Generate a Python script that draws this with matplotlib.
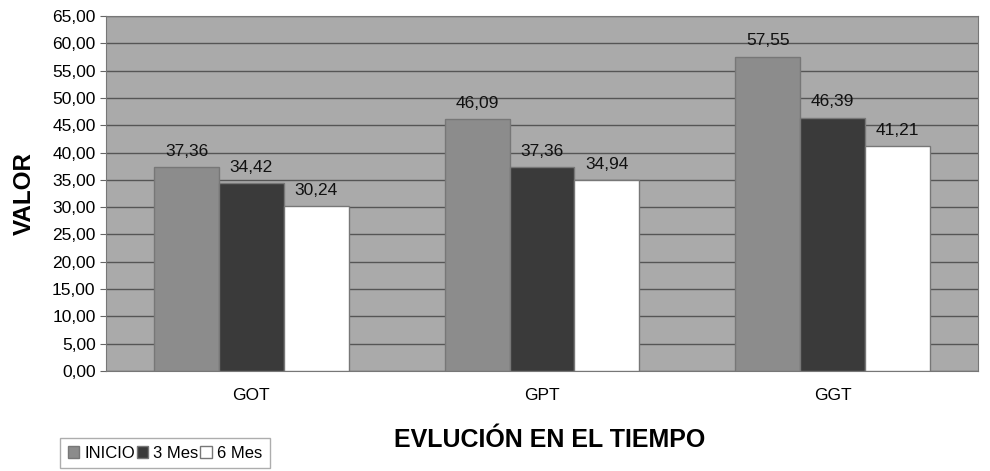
import numpy as np
import matplotlib.pyplot as plt

plt.rcParams['font.family'] = ['Liberation Sans', 'DejaVu Sans']

categorias = ["GOT", "GPT", "GGT"]
inicio = [37.36, 46.09, 57.55]
mes3 = [34.42, 37.36, 46.39]
mes6 = [30.24, 34.94, 41.21]
series = ["INICIO", "3 Mes", "6 Mes"]

def fmt(v):
    return f"{v:.2f}".replace(".", ",")

fig = plt.figure(figsize=(9.9, 4.71), dpi=100)
ax = fig.add_axes([106 / 990, 100 / 471, 872 / 990, 355 / 471])
ax.set_facecolor("#aaaaaa")

x = np.arange(len(categorias))
w = 0.223
colores = ["#8c8c8c", "#3a3a3a", "#ffffff"]
for i, (vals, nombre) in enumerate(zip([inicio, mes3, mes6], series)):
    pos = x + (i - 1) * w
    ax.bar(pos, vals, w, color=colores[i], edgecolor="#777777", linewidth=1, label=nombre, zorder=3)
    for p, v in zip(pos, vals):
        ax.text(p, v + 1.5, fmt(v), ha="center", va="bottom", fontsize=12.5, color="#111111", zorder=4)

ax.set_ylim(0, 65)
ax.set_xlim(-0.5, 2.5)
ax.set_yticks(np.arange(0, 66, 5))
ax.set_yticklabels([fmt(t) for t in np.arange(0, 66, 5)], fontsize=12.5)
ax.set_xticks(x)
ax.set_xticklabels(categorias, fontsize=12.5)
ax.yaxis.grid(True, color="#555555", linewidth=1, zorder=0)
ax.tick_params(axis="x", length=0, pad=12)
ax.tick_params(axis="y", length=4, color="#666666")
for s in ax.spines.values():
    s.set_color("#777777")

ax.set_ylabel("VALOR", fontsize=17.5, fontweight="bold", labelpad=12)
fig.text(550 / 990, 1 - 440 / 471, "EVLUCIÓN EN EL TIEMPO", ha="center", va="center",
         fontsize=18, fontweight="bold")

leg = ax.legend(loc="upper left", bbox_to_anchor=(60 / 990, 1 - 438 / 471), bbox_transform=fig.transFigure,
                ncol=3, fontsize=12, frameon=True, fancybox=False, edgecolor="#999999",
                handlelength=0.7, handleheight=0.7, handletextpad=0.3, columnspacing=0.1,
                borderpad=0.45, borderaxespad=0)

fig.savefig("out.png", dpi=100, facecolor="white")
